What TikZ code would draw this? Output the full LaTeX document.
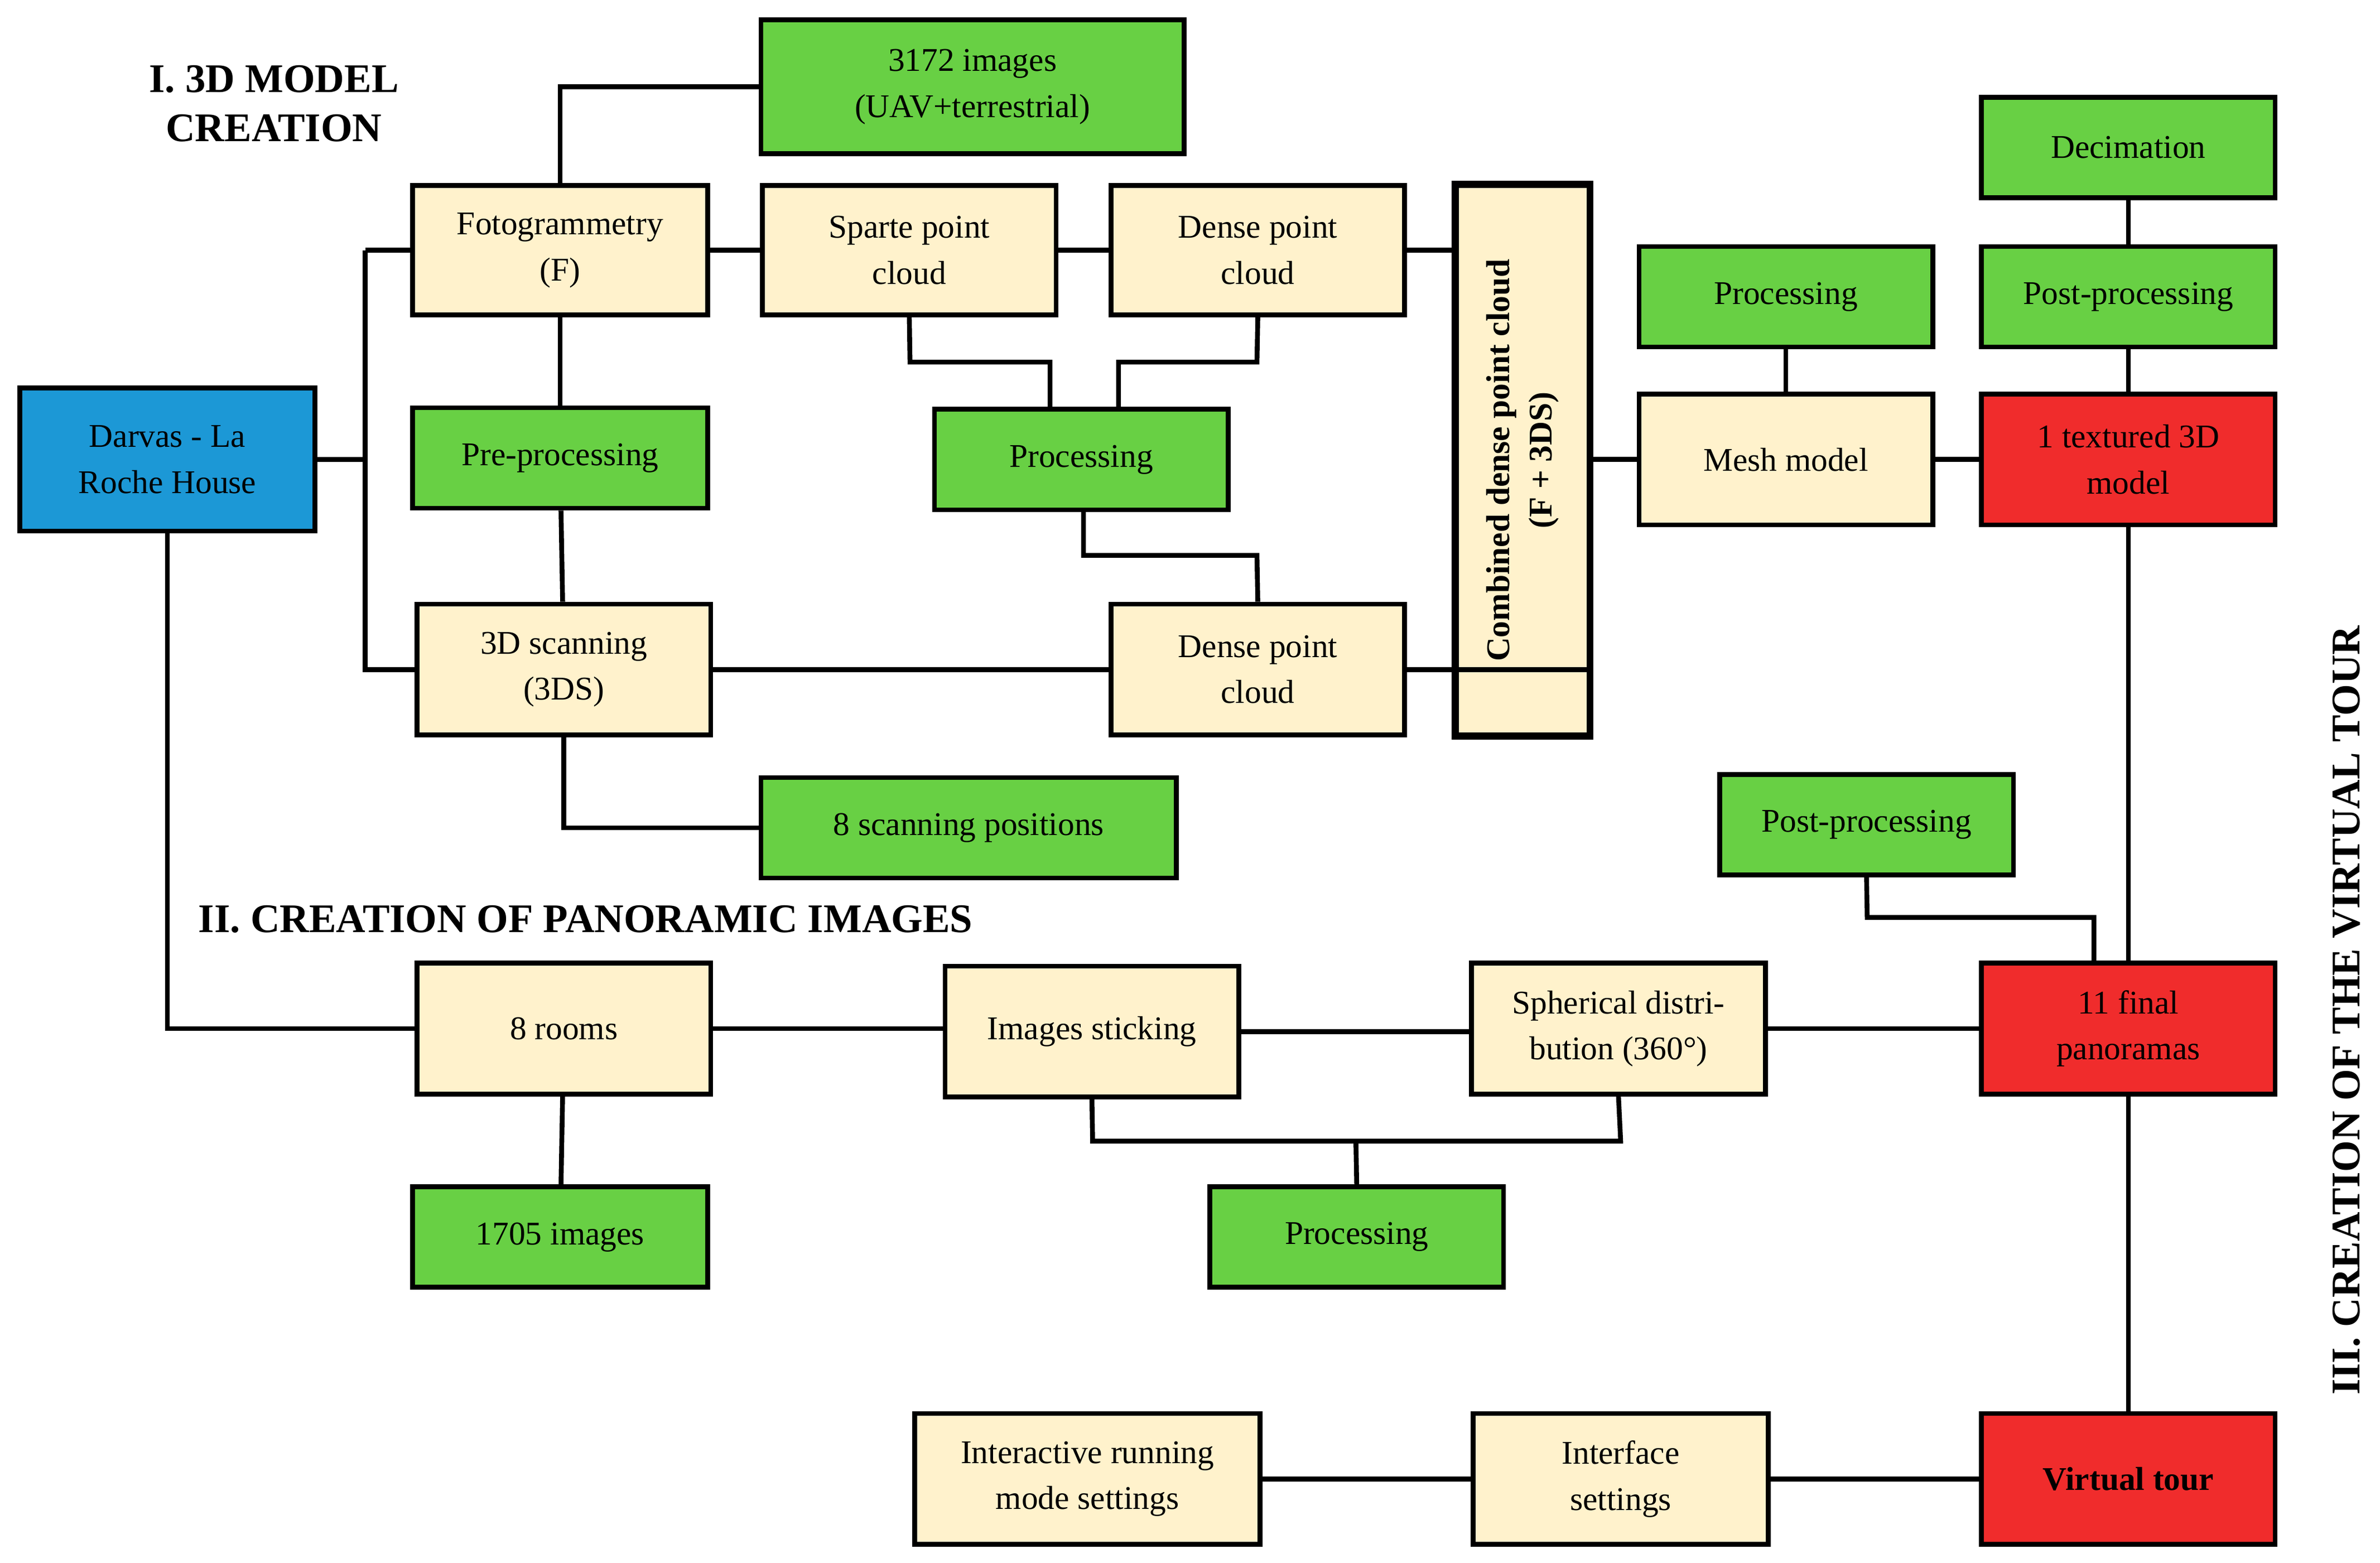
\documentclass[tikz,border=0pt]{standalone}
\usepackage{fontspec}
\setmainfont{Liberation Serif}
\definecolor{gr}{RGB}{104,208,68}
\definecolor{cr}{RGB}{255,242,204}
\definecolor{bl}{RGB}{28,152,214}
\definecolor{rd}{RGB}{240,44,44}
\tikzset{
 bx/.style={draw=black,line width=4.5pt,align=center,inner sep=0pt,font=\fontsize{31}{43}\selectfont},
 g/.style={bx,fill=gr}, c/.style={bx,fill=cr}, b/.style={bx,fill=bl}, r/.style={bx,fill=rd},
 ln/.style={line width=4.5pt}
}
\newcommand\bx[7]{\node[#6,minimum width={(#4-#2)*0.05cm},minimum height={(#5-#3)*0.05cm}] (#1) at ({(#2+#4)/2*0.05},{-(#3+#5)/2*0.05}) {#7};}
\begin{document}
\begin{tikzpicture}
\useasboundingbox (0,0) rectangle (78.2,-51.35);
\bx{darvas}{13}{255}{207}{349}{b}{Darvas - La\\Roche House}
\bx{foto}{271}{122}{465}{207}{c}{Fotogrammetry\\(F)}
\bx{img}{500}{13}{778}{101}{g}{3172 images\\(UAV+terrestrial)}
\bx{sparte}{501}{122}{694}{207}{c}{Sparte point\\cloud}
\bx{dense}{730}{122}{923}{207}{c}{Dense point\\cloud}
\bx{comb}{957}{122}{1044}{483}{c}{}
\node[rotate=90,align=center,font=\bfseries\fontsize{31}{40}\selectfont] at (comb) {Combined dense point cloud\\(F + 3DS)};
\bx{pre}{271}{268}{465}{334}{g}{Pre-processing}
\bx{proc}{614}{269}{807}{335}{g}{Processing}
\bx{scan}{274}{397}{467}{483}{c}{3D scanning\\(3DS)}
\bx{denseb}{730}{397}{923}{483}{c}{Dense point\\cloud}
\bx{pos}{500}{511}{773}{577}{g}{8 scanning positions}
\bx{procm}{1077}{162}{1270}{228}{g}{Processing}
\bx{mesh}{1077}{259}{1270}{345}{c}{Mesh model}
\bx{dec}{1302}{64}{1495}{130}{g}{Decimation}
\bx{post}{1302}{162}{1495}{228}{g}{Post-processing}
\bx{tex}{1302}{259}{1495}{345}{r}{1 textured 3D\\model}
\bx{postb}{1130}{509}{1323}{575}{g}{Post-processing}
\bx{fin}{1302}{633}{1495}{719}{r}{11 final\\panoramas}
\bx{rooms}{274}{633}{467}{719}{c}{8 rooms}
\bx{stick}{621}{635}{814}{721}{c}{Images sticking}
\bx{sph}{967}{633}{1160}{719}{c}{Spherical distri-\\bution (360°)}
\bx{imgb}{271}{780}{465}{846}{g}{1705 images}
\bx{procb}{795}{780}{988}{846}{g}{Processing}
\bx{inter}{601}{929}{828}{1015}{c}{Interactive running\\mode settings}
\bx{iface}{968}{929}{1162}{1015}{c}{Interface\\settings}
\bx{vt}{1302}{929}{1495}{1015}{r}{\bfseries Virtual tour}
\node[align=center,font=\bfseries\fontsize{38}{46}\selectfont] (t1) at (9,-3.4) {I. 3D MODEL\\CREATION};
\node[anchor=west,font=\bfseries\fontsize{38}{46}\selectfont] (t2) at (6.4,-30.2) {II. CREATION OF PANORAMIC IMAGES};
\node[rotate=90,font=\bfseries\fontsize{38}{46}\selectfont] (t3) at (77.1,-33.2) {III. CREATION OF THE VIRTUAL TOUR};
\begin{scope}[ln]
\coordinate (j) at (12,-15.1);
\draw (darvas.east) -- (j);
\draw (j|-foto.west) -- (foto.west); \draw (j|-foto.west) -- (j|-scan.west) -- (scan.west);
\draw (darvas.south) |- (rooms.west);
\draw (foto.north) |- (img.west);
\draw (foto) -- (sparte); \draw (sparte) -- (dense); \draw (dense.east) -- (dense.east-|comb.west);
\draw (foto) -- (pre); \draw (pre) -- (scan);
\draw (sparte.south) -- (29.9,-11.9) -- (34.5,-11.9) -- (34.5,-13.45);
\draw (dense.south) -- (41.3,-11.9) -- (36.75,-11.9) -- (36.75,-13.45);
\draw (35.6,-16.75) -- (35.6,-18.25) -- (41.3,-18.25) -- (denseb.north);
\draw (scan) -- (scan-|denseb.west);
\draw (denseb.east) -- (denseb.east-|comb.east) ;
\draw (scan.south) |- (pos.west);
\draw (comb.east|-mesh) -- (mesh); \draw (mesh) -- (procm); \draw (mesh) -- (tex);
\draw (dec) -- (post); \draw (post) -- (tex); \draw (tex) -- (fin); \draw (fin) -- (vt);
\draw (postb.south) -- (61.35,-30.15) -- (68.8,-30.15) -- (68.8,-31.65);
\draw (rooms) -- (rooms-|stick.west); \draw (stick.east) -- (stick.east-|sph.west); \draw (sph) -- (sph-|fin.west);
\draw (stick.south) -- (35.9,-37.5) -- (53.25,-37.5) -- (sph.south);
\draw (44.55,-37.5) -- (procb.north);
\draw (rooms) -- (imgb);
\draw (inter) -- (iface); \draw (iface) -- (vt);
\end{scope}
\draw[line width=4.5pt] (comb.north west) rectangle (comb.south east);
\end{tikzpicture}
\end{document}
